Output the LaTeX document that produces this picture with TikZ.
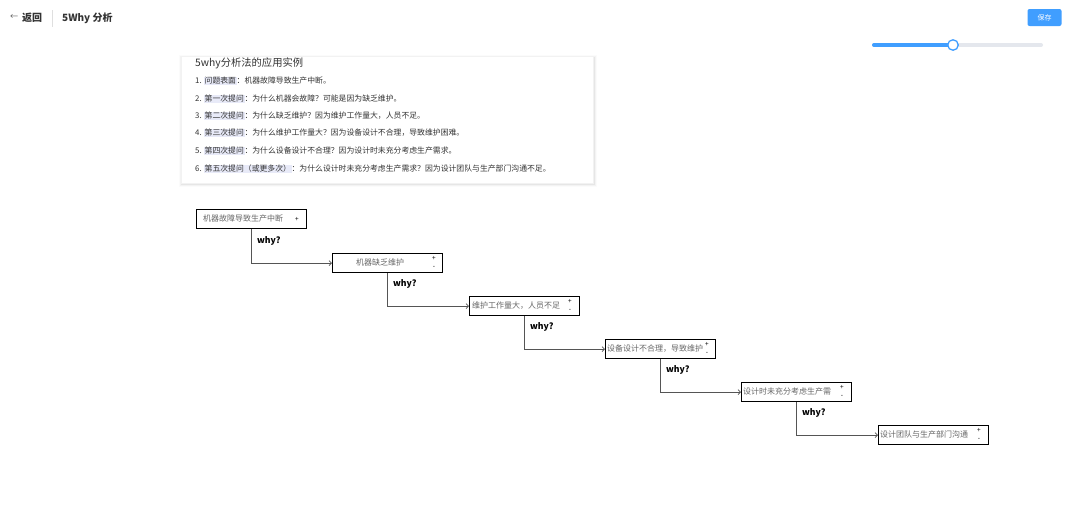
\documentclass[tikz,border=0pt]{standalone}
\usepackage{fontspec}
\setmainfont{Noto Sans CJK SC}
\usetikzlibrary{arrows.meta}
\definecolor{blueA}{HTML}{409EFF}
\definecolor{trackc}{HTML}{E4E7ED}
\definecolor{hlc}{HTML}{E8EAF8}
\definecolor{txtc}{HTML}{333333}
\definecolor{boxtxt}{HTML}{666666}
\definecolor{linec}{HTML}{555555}
\newcommand{\hlq}[1]{{\setlength{\fboxsep}{0.6pt}\colorbox{hlc}{#1}}}
\begin{document}
\begin{tikzpicture}[x=1pt,y=-1pt,
  box/.style={draw=black,line width=1.3pt,fill=white,anchor=north west,minimum width=110pt,minimum height=19pt,inner sep=0pt},
  btxt/.style={text=boxtxt,font=\fontsize{8}{9}\selectfont,inner sep=0pt},
  pm/.style={text=black,font=\fontsize{6.5}{7}\selectfont,inner sep=0pt},
  line/.style={draw=linec,line width=0.7pt,-{Straight Barb[length=2.5pt,width=5pt]}},
  why/.style={font=\bfseries\fontsize{8.7}{9}\selectfont,anchor=west,inner sep=0pt,xshift=5pt},
  listl/.style={anchor=west,inner sep=0pt,text=txtc,font=\fontsize{7.85}{8}\selectfont}
]
\useasboundingbox (0,0) rectangle (1080,517);
\fill[white] (0,0) rectangle (1080,517);
% header
\node[anchor=west,inner sep=0pt,text=txtc!80,font=\fontsize{8}{9}\selectfont] (back) at (10,17.5) {←};
\node[anchor=west,inner sep=0pt,text=txtc,font=\bfseries\fontsize{10}{11}\selectfont] (backt) at (22,18) {返回};
\draw[gray!25,line width=0.6pt] (52,10) -- (52,27);
\node[anchor=west,inner sep=0pt,text=txtc,font=\bfseries\fontsize{10}{11}\selectfont] (title) at (62,18) {5Why 分析};
% save button
\node[fill=blueA,rounded corners=2pt,minimum width=34pt,minimum height=17pt,inner sep=0pt,text=white,font=\fontsize{7}{8}\selectfont] (save) at (1044.5,17.5) {保存};
% slider
\draw[trackc,line width=4pt,line cap=round] (874,45) -- (1041,45);
\draw[blueA,line width=4pt,line cap=round] (874,45) -- (953,45);
\node[circle,draw=blueA,fill=white,line width=1.3pt,minimum size=10.5pt,inner sep=0pt] (knob) at (953,45) {};
% card shadow
\foreach \s/\o in {3/0.015,2/0.03,1/0.05}{
  \fill[black,opacity=\o] (181-\s+1,56-\s+1.5) rectangle (593+\s+0.5,183+\s+1);
}
\fill[white] (181,56) rectangle (593,183);
\draw[gray!10,line width=0.4pt] (181,56) rectangle (593,183);
\node[anchor=west,inner sep=0pt,text=txtc,font=\fontsize{10.3}{11}\selectfont] (ctitle) at (195,63) {5why分析法的应用实例};
\node[listl] (l1) at (195,81) {1. \hlq{问题表面}：机器故障导致生产中断。};
\node[listl] (l2) at (195,99) {2. \hlq{第一次提问}：为什么机器会故障？可能是因为缺乏维护。};
\node[listl] (l3) at (195,116) {3. \hlq{第二次提问}：为什么缺乏维护？因为维护工作量大，人员不足。};
\node[listl] (l4) at (195,133) {4. \hlq{第三次提问}：为什么维护工作量大？因为设备设计不合理，导致维护困难。};
\node[listl] (l5) at (195,151) {5. \hlq{第四次提问}：为什么设备设计不合理？因为设计时未充分考虑生产需求。};
\node[listl] (l6) at (195,169) {6. \hlq{第五次提问（或更多次）}：为什么设计时未充分考虑生产需求？因为设计团队与生产部门沟通不足。};
% boxes
\node[box] (b1) at (196,209) {};
\node[box] (b2) at (332,253) {};
\node[box] (b3) at (469,296) {};
\node[box] (b4) at (605,339) {};
\node[box] (b5) at (741,382) {};
\node[box] (b6) at (878,425) {};
% box texts
\node[btxt,anchor=west] (t1) at (203,218.5) {机器故障导致生产中断};
\node[pm] (p1) at (297,219) {+};
\node[btxt] (t2) at (380,262.5) {机器缺乏维护};
\node[pm] (p2) at (434,258) {+};
\node[pm] (m2) at (434,267) {-};
\node[btxt,anchor=west] (t3) at (472,305.5) {维护工作量大，人员不足};
\node[pm] (p3) at (570,301) {+};
\node[pm] (m3) at (570,310) {-};
\begin{scope}
\clip (606,340) rectangle (702.5,357);
\node[btxt,anchor=west] (t4) at (607,348.5) {设备设计不合理，导致维护};
\end{scope}
\node[pm] (p4) at (707,344) {+};
\node[pm] (m4) at (707,353) {-};
\begin{scope}
\clip (742,383) rectangle (833.5,400);
\node[btxt,anchor=west] (t5) at (743,391.5) {设计时未充分考虑生产需};
\end{scope}
\node[pm] (p5) at (842,387) {+};
\node[pm] (m5) at (842,396) {-};
\begin{scope}
\clip (879,426) rectangle (970.5,443);
\node[btxt,anchor=west] (t6) at (880,434.5) {设计团队与生产部门沟通};
\end{scope}
\node[pm] (p6) at (979,430) {+};
\node[pm] (m6) at (979,439) {-};
% connectors
\draw[line] (b1.south) |- node[why,pos=0.17] {why?} (b2.west);
\draw[line] (b2.south) |- node[why,pos=0.17] {why?} (b3.west);
\draw[line] (b3.south) |- node[why,pos=0.17] {why?} (b4.west);
\draw[line] (b4.south) |- node[why,pos=0.17] {why?} (b5.west);
\draw[line] (b5.south) |- node[why,pos=0.17] {why?} (b6.west);
\end{tikzpicture}
\end{document}
